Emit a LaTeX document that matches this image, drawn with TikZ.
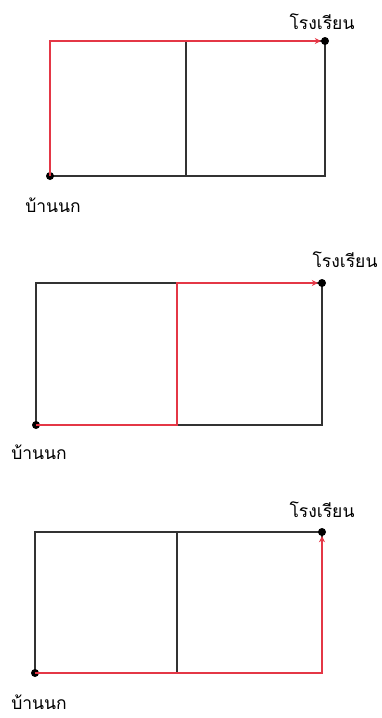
\documentclass[tikz,border=0pt]{standalone}
\usepackage{fontspec}
\newfontfamily\thaifont[Script=Thai]{Loma}
\usetikzlibrary{arrows.meta}
\definecolor{gridc}{RGB}{50,50,50}
\definecolor{pathc}{RGB}{228,55,70}
\tikzset{
  gridline/.style={draw=gridc, line width=2pt},
  route/.style={draw=pathc, line width=1.7pt, -{Stealth[length=6pt,width=6pt]}},
  spot/.style={circle, fill=black, inner sep=0pt, minimum size=8pt},
  lbl/.style={font=\thaifont\fontsize{17.5}{17.5}\selectfont, anchor=base, inner sep=0pt}
}
\begin{document}
\begin{tikzpicture}[x=1pt,y=-1pt]
\useasboundingbox (0,0) rectangle (381,718);
% ---------- panel 1 ----------
\coordinate (a1) at (50,41);  \coordinate (b1) at (186,41);  \coordinate (c1) at (325,41);
\coordinate (d1) at (50,176); \coordinate (e1) at (186,176); \coordinate (f1) at (325,176);
\draw[gridline] (a1) -- (c1) -- (f1) -- (d1) -- cycle (b1) -- (e1);
\node[spot] (h1) at (d1) {};
\node[spot] (s1) at (c1) {};
\draw[route] (h1.center) -- (a1) -- (s1);
\node[lbl] (st1) at (322,29) {โรงเรียน};
\node[lbl] (ht1) at (53,212) {บ้านนก};
% ---------- panel 2 ----------
\coordinate (a2) at (36,283);  \coordinate (b2) at (177,283);  \coordinate (c2) at (322,283);
\coordinate (d2) at (36,425);  \coordinate (e2) at (177,425);  \coordinate (f2) at (322,425);
\draw[gridline] (a2) -- (c2) -- (f2) -- (d2) -- cycle (b2) -- (e2);
\node[spot] (h2) at (d2) {};
\node[spot] (s2) at (c2) {};
\draw[route] (h2.center) -- (e2) -- (b2) -- (s2);
\node[lbl] (st2) at (345,267) {โรงเรียน};
\node[lbl] (ht2) at (39,459) {บ้านนก};
% ---------- panel 3 ----------
\coordinate (a3) at (35,532);  \coordinate (b3) at (177,532);  \coordinate (c3) at (322,532);
\coordinate (d3) at (35,673);  \coordinate (e3) at (177,673);  \coordinate (f3) at (322,673);
\draw[gridline] (a3) -- (c3) -- (f3) -- (d3) -- cycle (b3) -- (e3);
\node[spot] (h3) at (d3) {};
\node[spot] (s3) at (c3) {};
\draw[route] (h3.center) -- (f3) -- (s3);
\node[lbl] (st3) at (322,517) {โรงเรียน};
\node[lbl] (ht3) at (39,709) {บ้านนก};
\end{tikzpicture}
\end{document}
